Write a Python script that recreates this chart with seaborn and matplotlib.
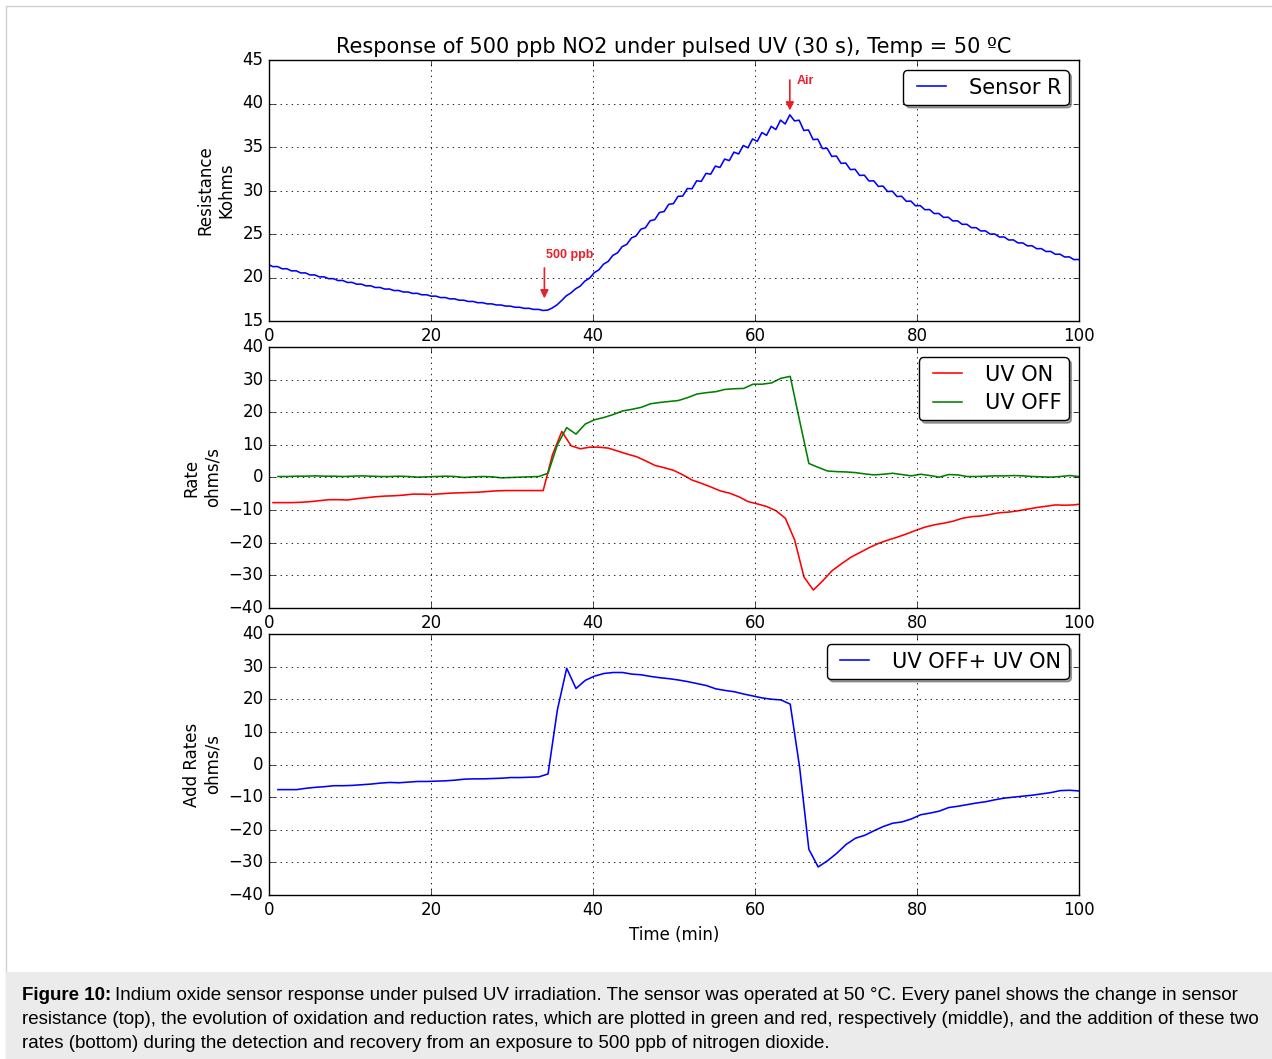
import numpy as np
import matplotlib
matplotlib.use('Agg')
import matplotlib.pyplot as plt
import seaborn as sns
from matplotlib.patches import Rectangle

# sensor resistance (kohms), one value at the end of each UV half pulse
sensor_r = [
    21.50,
    21.25, 21.26, 21.00, 21.01, 20.76, 20.77, 20.52, 20.53, 20.29, 20.30,
    20.07, 20.08, 19.86, 19.87, 19.65, 19.66, 19.43, 19.44, 19.23, 19.24,
    19.04, 19.05, 18.85, 18.86, 18.67, 18.68, 18.50, 18.51, 18.33, 18.34,
    18.17, 18.18, 18.01, 18.02, 17.85, 17.86, 17.69, 17.70, 17.54, 17.55,
    17.39, 17.39, 17.24, 17.25, 17.10, 17.11, 16.97, 16.97, 16.84, 16.84,
    16.71, 16.71, 16.58, 16.58, 16.45, 16.46, 16.33, 16.34, 16.21, 16.25,
    16.50, 16.85, 17.35, 17.89, 18.23, 18.70, 19.01, 19.59, 19.92, 20.55,
    20.88, 21.53, 21.85, 22.54, 22.83, 23.55, 23.81, 24.55, 24.78, 25.54,
    25.72, 26.52, 26.65, 27.47, 27.58, 28.41, 28.49, 29.33, 29.36, 30.23,
    30.20, 31.11, 31.05, 31.97, 31.87, 32.80, 32.65, 33.61, 33.44, 34.41,
    34.20, 35.17, 34.91, 35.93, 35.64, 36.66, 36.34, 37.37, 37.01, 38.09,
    37.65, 38.70, 38.00, 38.08, 36.90, 36.96, 35.85, 35.90, 34.82, 34.86,
    33.92, 33.96, 33.12, 33.16, 32.40, 32.44, 31.73, 31.76, 31.09, 31.12,
    30.47, 30.51, 29.88, 29.92, 29.31, 29.34, 28.76, 28.78, 28.24, 28.27,
    27.79, 27.81, 27.35, 27.36, 26.91, 26.93, 26.50, 26.52, 26.11, 26.12,
    25.72, 25.73, 25.35, 25.36, 24.99, 25.00, 24.65, 24.66, 24.31, 24.32,
    23.97, 23.98, 23.64, 23.65, 23.31, 23.32, 22.99, 23.00, 22.67, 22.68,
    22.36, 22.37, 22.06, 22.07,
    21.77,
]
r_start, r_step = -0.1, 0.575   # min

# rates (ohms/s), one value per UV cycle
uv_on = [
    -7.7, -7.7, -7.7, -7.6, -7.4, -7.1, -6.8, -6.8, -6.9, -6.5,
    -6.2, -5.9, -5.7, -5.6, -5.4, -5.1, -5.1, -5.2, -5.0, -4.8,
    -4.7, -4.6, -4.5, -4.3, -4.1, -4.0, -4.0, -4.0, -4.0, -4.0,
    7.0, 14.1, 9.7, 8.8, 9.3, 9.3, 9.0, 8.1, 7.2, 6.4,
    5.1, 3.7, 3.0, 2.2, 0.8, -0.8, -1.8, -2.9, -4.1, -4.8,
    -5.9, -7.4, -8.1, -8.9, -10.2, -12.5, -19.2, -30.5, -34.5, -31.7,
    -28.6, -26.5, -24.5, -23.0, -21.5, -20.2, -19.2, -18.3, -17.3, -16.2,
    -15.2, -14.5, -14.0, -13.4, -12.5, -12.0, -11.8, -11.3, -10.8, -10.6,
    -10.2, -9.7, -9.2, -8.8, -8.4, -8.5, -8.4, -8.0,
]
uv_off = [
    0.3, 0.3, 0.4, 0.4, 0.5, 0.4, 0.4, 0.3, 0.4, 0.5,
    0.4, 0.3, 0.3, 0.4, 0.3, 0.1, 0.2, 0.3, 0.4, 0.3,
    0.0, 0.2, 0.3, 0.2, -0.1, 0.0, 0.1, 0.2, 0.3, 1.3,
    10.0, 15.3, 13.3, 16.4, 17.7, 18.4, 19.3, 20.4, 20.9, 21.5,
    22.6, 23.0, 23.3, 23.6, 24.5, 25.6, 26.0, 26.3, 27.0, 27.2,
    27.3, 28.6, 28.6, 29.0, 30.4, 31.0, 17.5, 4.3, 3.1, 2.0,
    1.8, 1.7, 1.5, 1.1, 0.8, 1.0, 1.3, 0.9, 0.5, 1.0,
    0.6, 0.1, 0.9, 0.8, 0.3, 0.3, 0.4, 0.5, 0.5, 0.6,
    0.5, 0.3, 0.2, 0.1, 0.3, 0.6, 0.3, 0.3,
]
uv_sum = [
    -7.7, -7.7, -7.7, -7.3, -7.0, -6.8, -6.5, -6.5, -6.4, -6.2,
    -6.0, -5.7, -5.5, -5.6, -5.4, -5.2, -5.2, -5.1, -5.0, -4.8,
    -4.5, -4.4, -4.4, -4.3, -4.2, -4.0, -4.0, -3.9, -3.8, -2.9,
    16.7, 29.5, 23.3, 25.8, 27.1, 27.9, 28.2, 28.2, 27.7, 27.5,
    27.0, 26.6, 26.3, 25.9, 25.4, 24.8, 24.2, 23.2, 22.7, 22.3,
    21.6, 21.0, 20.4, 20.0, 19.8, 18.5, -0.7, -26.0, -31.4, -29.5,
    -27.2, -24.5, -22.6, -21.7, -20.3, -19.0, -18.0, -17.6, -16.7, -15.4,
    -14.9, -14.3, -13.2, -12.8, -12.3, -11.8, -11.4, -10.8, -10.3, -10.0,
    -9.7, -9.4, -9.0, -8.6, -8.0, -7.9, -8.1, -8.1,
]
rate_start, rate_step = 1.1, 1.15   # min
on_shift = -0.6                       # UV ON samples lead the OFF ones

caption = [
    "Indium oxide sensor response under pulsed UV irradiation. The sensor was operated at 50 \u00b0C. Every panel shows the change in sensor",
    "resistance (top), the evolution of oxidation and reduction rates, which are plotted in green and red, respectively (middle), and the addition of these two",
    "rates (bottom) during the detection and recovery from an exposure to 500 ppb of nitrogen dioxide.",
]

t_r = r_start + r_step * np.arange(len(sensor_r))
t_off = rate_start + rate_step * np.arange(len(uv_off))
t_on = t_off + on_shift

plt.style.use('classic')
plt.rcParams['font.family'] = ['DejaVu Sans']

W, H = 1272, 1059
fig = plt.figure(figsize=(W / 100, H / 100), dpi=100, facecolor='white')

# outer frame and caption band
fig.patches.append(Rectangle((6 / W, 0), 1.0, 1 - 6 / H, transform=fig.transFigure,
                             fill=False, edgecolor='#d0d0d0', lw=1, zorder=0))
fig.patches.append(Rectangle((6 / W, 0), 1.0, (H - 972) / H, transform=fig.transFigure,
                             facecolor='#ebebeb', edgecolor='none', zorder=0))

left, width, height = 269 / W, 810 / W, 261 / H
ax1 = fig.add_axes([left, 1 - 321 / H, width, height])
ax2 = fig.add_axes([left, 1 - 608 / H, width, height])
ax3 = fig.add_axes([left, 1 - 895 / H, width, height])

lw = 1.15
sns.lineplot(x=t_r, y=sensor_r, ax=ax1, color='b', lw=lw, label='Sensor R', estimator=None)
sns.lineplot(x=t_on, y=uv_on, ax=ax2, color='r', lw=lw, label='UV ON', estimator=None)
sns.lineplot(x=t_off, y=uv_off, ax=ax2, color='g', lw=lw, label='UV OFF', estimator=None)
sns.lineplot(x=t_off, y=uv_sum, ax=ax3, color='b', lw=lw, label='UV OFF+ UV ON', estimator=None)

ax1.set_ylim(15, 45)
ax1.set_yticks(np.arange(15, 46, 5))
for ax in (ax2, ax3):
    ax.set_ylim(-40, 40)
    ax.set_yticks(np.arange(-40, 41, 10))

for ax in (ax1, ax2, ax3):
    ax.set_xlim(0, 100)
    ax.set_xticks(np.arange(0, 101, 20))
    ax.grid(True, color='k', linestyle=':', lw=0.6)
    ax.tick_params(labelsize=12)
    ax.legend(loc='upper right', fontsize=15, shadow=True, fancybox=True,
              framealpha=1, handlelength=2.0, borderpad=0.35, labelspacing=0.4)

ax1.set_title('Response of 500 ppb NO2 under pulsed UV (30 s), Temp = 50 \u00baC', fontsize=15)
ax1.set_ylabel('Resistance\nKohms', fontsize=12)
ax2.set_ylabel('Rate\nohms/s', fontsize=12)
ax3.set_ylabel('Add Rates\nohms/s', fontsize=12)
ax3.set_xlabel('Time (min)', fontsize=12)

# gas switching marks
red = '#e8202a'
arrow = dict(arrowstyle='-|>', color=red, lw=1.2, mutation_scale=12, shrinkA=0, shrinkB=0)
ax1.annotate('', xy=(34.0, 17.6), xytext=(34.0, 21.1), arrowprops=arrow)
ax1.text(34.2, 22.6, '500 ppb', color=red, fontsize=9, fontweight='bold',
         family='Liberation Sans', va='center', ha='left')
ax1.annotate('', xy=(64.3, 39.2), xytext=(64.3, 42.7), arrowprops=arrow)
ax1.text(65.2, 42.6, 'Air', color=red, fontsize=9, fontweight='bold',
         family='Liberation Sans', va='center', ha='left')

# caption with bold lead-in
cap_x, cap_y, line_h = 22 / W, 1 - 995 / H, 24 / H
cap_fs = 13.5
lead = fig.text(cap_x, cap_y, 'Figure 10:', fontsize=cap_fs, fontweight='bold',
                family='Liberation Sans', va='center', ha='left')
renderer = fig.canvas.get_renderer()
bb = lead.get_window_extent(renderer=renderer)
fig.text(bb.x1 / W + 4 / W, cap_y, caption[0], fontsize=cap_fs,
         family='Liberation Sans', va='center', ha='left')
for i, line in enumerate(caption[1:], start=1):
    fig.text(cap_x, cap_y - i * line_h, line, fontsize=cap_fs,
             family='Liberation Sans', va='center', ha='left')

fig.savefig('out.png', dpi=100, facecolor='white')
